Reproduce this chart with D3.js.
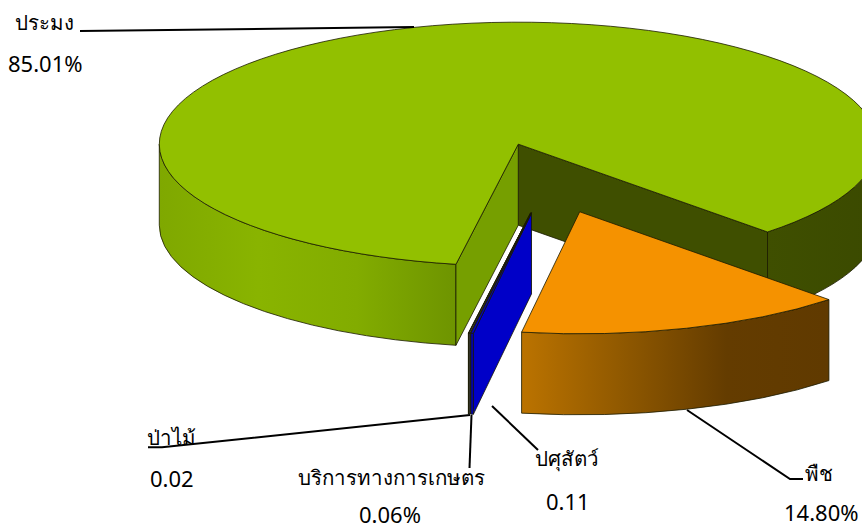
<!DOCTYPE html>
<html>
<head>
<meta charset="utf-8">
<script src="https://cdn.jsdelivr.net/npm/d3@7"></script>
<style>
    html, body { margin: 0; padding: 0; background: #fff; }
    text { font-family: "Noto Sans", "Open Sans", sans-serif; fill: #000; }
    text.name { font-size: 20.5px; }
    text.value { font-size: 22px; }
</style>
</head>
<body>
<div id="svg-container"></div>
<script>
// values, in drawing order of the pie
const categories = ['ประมง', 'พืช', 'ปศุสัตว์', 'บริการทางการเกษตร', 'ป่าไม้'];
const shares = [85.01, 14.80, 0.11, 0.06, 0.02];
const shareLabels = ['85.01%', '14.80%', '0.11', '0.06%', '0.02'];

// chart params
const chart_params = {
    width: 862,
    height: 529,
    cx: 548.7,
    cy: 178,
    rx: 359,
    ry: 122,
    depth: 81,
    explode: 0.29,
    startAngle: 190 * Math.PI / 180
};

// slice colours: top, flat radial walls, outer rim gradient stops
const sliceStyles = [
    { top: '#92c000', wallRight: '#3f4f00', wallLeft: '#769f00', rim: ['#7fa800', '#89b400', '#82ac00', '#6e9400'], rimRight: ['#3f4f00', '#3b4a00'] },
    { top: '#f59200', rim: ['#bb7300', '#8f5800', '#643c00', '#603a00'] },
    { top: '#0000c8', wallRight: '#0000c8', rim: ['#0000c8', '#0000c8'] },
    { top: '#555555', wallRight: '#666666', rim: ['#555555', '#555555'] },
    { top: '#333333', wallRight: '#333333', rim: ['#333333', '#333333'] }
];

// label placement: name, value, leader line
const labelLayout = [
    { name: [15, 30], value: [8, 72], line: [[80, 31], [414, 27]] },
    { name: [805, 481], value: [784, 521], line: [[687, 410], [790, 479], [803, 479]] },
    { name: [535, 466], value: [546, 510], line: [[492, 406], [538, 450]] },
    { name: [298, 485], value: [359, 522.5], line: [[471.5, 415], [469.5, 468]] },
    { name: [147, 445], value: [150, 487], line: [[148, 447.3], [162, 447.3], [470, 415]] }
];

const svg = d3.select('#svg-container')
    .append('svg')
    .attr('width', chart_params.width)
    .attr('height', chart_params.height)
    .style('display', 'block');
const defs = svg.append('defs');

const { cx, cy, rx, ry, depth, explode } = chart_params;

const pie = d3.pie()
    .sort(null)
    .startAngle(chart_params.startAngle)
    .endAngle(chart_params.startAngle + 2 * Math.PI);
const arcs = pie(shares);

// project a pie angle on the tilted ellipse, relative to the centre of the slice
const rimX = a => rx * Math.sin(a);
const rimY = a => -ry * Math.cos(a);

const makeGradient = (id, x1, x2, stops) => {
    const g = defs.append('linearGradient')
        .attr('id', id)
        .attr('gradientUnits', 'userSpaceOnUse')
        .attr('x1', x1).attr('x2', x2)
        .attr('y1', 0).attr('y2', 0);
    stops.forEach((c, i) => g.append('stop')
        .attr('offset', i / (stops.length - 1))
        .attr('stop-color', c));
    return `url(#${id})`;
};

// elliptical arc command between two angles
const arcPath = (x0, y0, a0, a1, dy) => {
    const sweep = a1 > a0 ? 1 : 0;
    const large = Math.abs(a1 - a0) > Math.PI ? 1 : 0;
    return `A${rx},${ry} 0 ${large} ${sweep} ${x0 + rimX(a1)},${y0 + rimY(a1) + dy}`;
};

const chart = svg.append('g').attr('class', 'chart');
const drawOrder = [0, 4, 3, 2, 1];

drawOrder.forEach(i => {
    const d = arcs[i];
    const style = sliceStyles[i];
    const mid = (d.startAngle + d.endAngle) / 2;
    const x0 = cx + explode * rimX(mid);
    const y0 = cy + explode * rimY(mid);
    const g = chart.append('g').attr('class', 'slice');
    const part = (path, fill) => g.append('path')
        .attr('d', path)
        .attr('fill', fill)
        .attr('stroke', '#1a1a00')
        .attr('stroke-width', 0.8)
        .attr('stroke-linejoin', 'round');

    // outer rim, only where the angle looks to the viewer (90 to 270 degrees, in any turn)
    const turn = 2 * Math.PI;
    [[Math.PI / 2, 1.5 * Math.PI], [Math.PI / 2 + turn, 1.5 * Math.PI + turn]].forEach(([lo, hi], k) => {
        const a0 = Math.max(d.startAngle, lo);
        const a1 = Math.min(d.endAngle, hi);
        if (a1 <= a0) return;
        const x1 = x0 + rimX(a0), y1 = y0 + rimY(a0);
        const x2 = x0 + rimX(a1), y2 = y0 + rimY(a1);
        const left = Math.min(x1, x2), right = Math.max(x1, x2);
        // green rim has a lit part on the left and a shaded part on the right
        const stops = k === 1 && style.rimRight ? style.rimRight : style.rim;
        const fill = makeGradient(`rim-${i}-${k}`, i === 0 && k === 0 ? x0 - rx : left, right, stops);
        part(`M${x1},${y1}${arcPath(x0, y0, a0, a1, 0)}L${x2},${y2 + depth}${arcPath(x0, y0, a1, a0, depth)}Z`, fill);
    });

    // radial walls that face the viewer
    const wall = (a, fill) => part(
        `M${x0},${y0}L${x0 + rimX(a)},${y0 + rimY(a)}L${x0 + rimX(a)},${y0 + rimY(a) + depth}L${x0},${y0 + depth}Z`,
        fill);
    if (i === 0) {
        wall(d.endAngle, style.wallRight);
        wall(d.startAngle, style.wallLeft);
    } else if (style.wallRight) {
        wall(d.startAngle, style.wallRight);
    }

    // top surface
    const x1 = x0 + rimX(d.startAngle), y1 = y0 + rimY(d.startAngle);
    part(`M${x0},${y0}L${x1},${y1}${arcPath(x0, y0, d.startAngle, d.endAngle, 0)}Z`, style.top);
});

// leader lines
const lineGen = d3.line();
svg.append('g').attr('class', 'leaders')
    .selectAll('path')
    .data(labelLayout)
    .enter()
    .append('path')
    .attr('d', d => lineGen(d.line))
    .attr('fill', 'none')
    .attr('stroke', '#000')
    .attr('stroke-width', 2);

// labels
const labels = svg.append('g').attr('class', 'labels');
labels.selectAll('text.name')
    .data(categories)
    .enter()
    .append('text')
    .attr('class', 'name')
    .attr('x', (d, i) => labelLayout[i].name[0])
    .attr('y', (d, i) => labelLayout[i].name[1])
    .text(d => d);
labels.selectAll('text.value')
    .data(shareLabels)
    .enter()
    .append('text')
    .attr('class', 'value')
    .attr('x', (d, i) => labelLayout[i].value[0])
    .attr('y', (d, i) => labelLayout[i].value[1])
    .text(d => d);
</script>
</body>
</html>
